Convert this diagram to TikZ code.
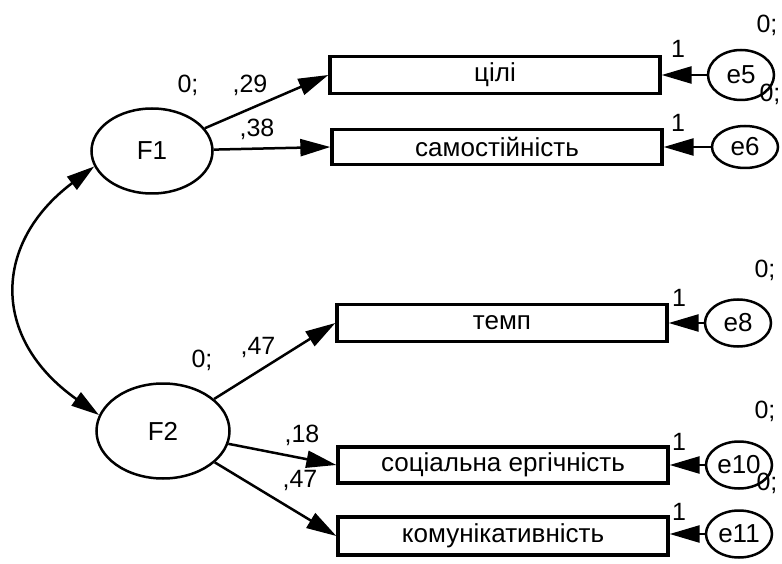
\documentclass[tikz,border=0pt]{standalone}
\usepackage{fontspec}
\setmainfont{Liberation Sans}
\usetikzlibrary{shapes}
\usetikzlibrary{arrows.meta}

\begin{document}
\begin{tikzpicture}[
x=1pt, y=1pt,
myfactor/.style={
  draw,
  ellipse,
  line width=2.5pt,
  inner sep=0pt,
  font=\fontsize{26}{30}\selectfont},
mybox/.style={
  draw,
  rectangle,
  line width=3.3pt,
  minimum width=330pt,
  minimum height=36pt,
  inner sep=0pt,
  font=\fontsize{26}{30}\selectfont},
myerror/.style={
  draw,
  ellipse,
  line width=2.5pt,
  minimum width=66pt,
  minimum height=47pt,
  inner sep=0pt,
  font=\fontsize{26}{30}\selectfont},
myarrow/.style={
  line width=2.5pt,
  -{Triangle[length=30pt,width=17pt]}},
mycov/.style={
  line width=2.5pt,
  {Triangle[length=28pt,width=16pt]}-{Triangle[length=28pt,width=16pt]}},
mynum/.style={
  anchor=base,
  inner sep=0pt,
  font=\fontsize{25}{28}\selectfont}
]
\useasboundingbox (0,0) rectangle (782,563);
\node[myfactor, minimum width=121pt, minimum height=85pt] (F1) at (152,412) {F1};
\node[myfactor, minimum width=133pt, minimum height=95pt] (F2) at (163,132) {F2};
\node[mybox, minimum height=37pt] (cili) at (495,488) {цілі};
\node[mybox, minimum height=35pt] (samost) at (497,416) {самостійність};
\node[mybox, minimum height=37pt] (temp) at (502,240) {темп};
\node[mybox] (social) at (503,98) {соціальна ергічність};
\node[mybox, minimum height=38pt] (komun) at (503,27) {комунікативність};
\node[myerror, minimum height=50pt] (e5) at (741,488) {e5};
\node[myerror, minimum height=42pt] (e6) at (745,416) {e6};
\node[myerror] (e8) at (738,240) {e8};
\node[myerror] (e10) at (739,98) {e10};
\node[myerror] (e11) at (739,29) {e11};
\draw[myarrow] (F1) -- (cili.west);
\draw[myarrow] (F1) -- (samost.west);
\draw[myarrow] (F2) -- (temp.west);
\draw[myarrow] (F2) -- (social.west);
\draw[myarrow] (F2) -- (komun.west);
\foreach \Err/\Var in {e5/cili,e6/samost,e8/temp,e10/social,e11/komun}
  \draw[myarrow] (\Err) -- (\Var.east |- \Err);
\draw[mycov] (F1.195) .. controls +(-101,-76) and +(-109,77) .. (F2.166);
\node[mynum] (m1) at (188,470) {0;};
\node[mynum] (w1) at (250,470) {,29};
\node[mynum] (w2) at (257,426) {,38};
\node[mynum] (m2) at (202,196) {0;};
\node[mynum] (w3) at (258,208) {,47};
\node[mynum] (w4) at (302,121) {,18};
\node[mynum] (w5) at (300,76) {,47};
\foreach \Pos/\Base in {678/505,678/431,679/256,679/113,679/43}
  \node[mynum] at (\Pos,\Base) {1};
\foreach \Pos/\Base in {767/530,770/461,765/285,765/145,767/73}
  \node[mynum] at (\Pos,\Base) {0;};
\end{tikzpicture}
\end{document}
